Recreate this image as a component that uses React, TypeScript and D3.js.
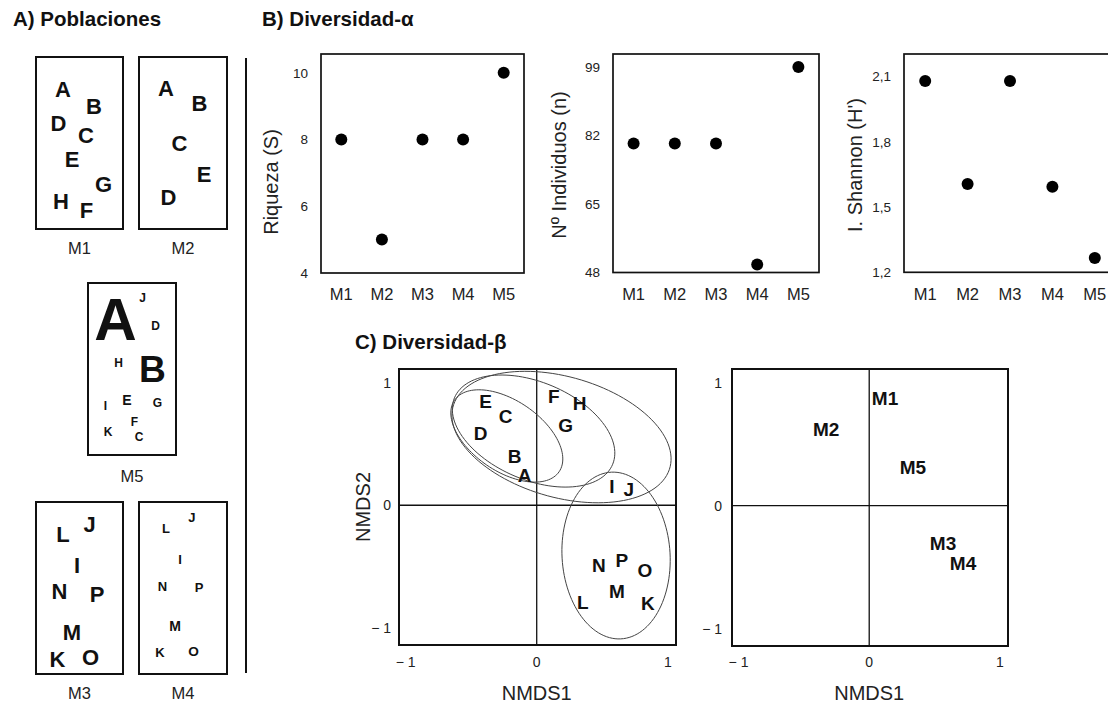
import React from 'react';
import * as d3 from 'd3';

// ---------- DATA ----------
const sites = ['M1', 'M2', 'M3', 'M4', 'M5'];
const riqueza = [8, 5, 8, 8, 10];
const individuos = [80, 80, 80, 50, 99];
const shannon = [2.08, 1.606, 2.08, 1.593, 1.266];

const riquezaTicks = [4, 6, 8, 10];
const individuosTicks = [48, 65, 82, 99];
const shannonTicks = [1.2, 1.5, 1.8, 2.1];

// Panel A: species letters inside each sample (relative position in the box, relative abundance weight)
const popM1 = [
  { sp: 'A', x: 0.31, y: 0.186, w: 1 },
  { sp: 'B', x: 0.667, y: 0.285, w: 1 },
  { sp: 'D', x: 0.259, y: 0.384, w: 1 },
  { sp: 'C', x: 0.575, y: 0.453, w: 1 },
  { sp: 'E', x: 0.414, y: 0.593, w: 1 },
  { sp: 'G', x: 0.776, y: 0.738, w: 1 },
  { sp: 'H', x: 0.287, y: 0.837, w: 1 },
  { sp: 'F', x: 0.58, y: 0.89, w: 1 },
];
const popM2 = [
  { sp: 'A', x: 0.307, y: 0.18, w: 1 },
  { sp: 'B', x: 0.688, y: 0.267, w: 1 },
  { sp: 'C', x: 0.46, y: 0.5, w: 1 },
  { sp: 'E', x: 0.739, y: 0.68, w: 1 },
  { sp: 'D', x: 0.335, y: 0.814, w: 1 },
];
const popM5 = [
  { sp: 'A', x: 0.3125, y: 0.209, w: 4.9 },
  { sp: 'J', x: 0.619, y: 0.086, w: 1 },
  { sp: 'D', x: 0.767, y: 0.249, w: 1 },
  { sp: 'H', x: 0.347, y: 0.463, w: 1 },
  { sp: 'B', x: 0.733, y: 0.499, w: 3.1 },
  { sp: 'I', x: 0.199, y: 0.713, w: 1 },
  { sp: 'E', x: 0.443, y: 0.68, w: 1.17 },
  { sp: 'G', x: 0.79, y: 0.696, w: 1 },
  { sp: 'F', x: 0.528, y: 0.806, w: 1 },
  { sp: 'K', x: 0.227, y: 0.866, w: 1 },
  { sp: 'C', x: 0.58, y: 0.895, w: 1 },
];
const popM3 = [
  { sp: 'L', x: 0.31, y: 0.186, w: 1 },
  { sp: 'J', x: 0.615, y: 0.128, w: 1 },
  { sp: 'I', x: 0.471, y: 0.366, w: 1 },
  { sp: 'N', x: 0.27, y: 0.517, w: 1 },
  { sp: 'P', x: 0.701, y: 0.535, w: 1 },
  { sp: 'M', x: 0.414, y: 0.756, w: 1 },
  { sp: 'K', x: 0.247, y: 0.913, w: 1 },
  { sp: 'O', x: 0.626, y: 0.901, w: 1 },
];
const popM4 = [
  { sp: 'L', x: 0.307, y: 0.153, w: 1 },
  { sp: 'J', x: 0.602, y: 0.089, w: 1 },
  { sp: 'I', x: 0.466, y: 0.333, w: 1 },
  { sp: 'N', x: 0.267, y: 0.49, w: 1 },
  { sp: 'P', x: 0.682, y: 0.496, w: 1 },
  { sp: 'M', x: 0.409, y: 0.723, w: 1.08 },
  { sp: 'K', x: 0.239, y: 0.874, w: 1 },
  { sp: 'O', x: 0.619, y: 0.868, w: 1.05 },
];

// NMDS species scores
const speciesNames = ['A', 'B', 'C', 'D', 'E', 'F', 'G', 'H', 'I', 'J', 'K', 'L', 'M', 'N', 'O', 'P'];
const speciesX = [-0.092, -0.168, -0.237, -0.428, -0.389, 0.13, 0.221, 0.328, 0.573, 0.702, 0.847, 0.351, 0.611, 0.473, 0.824, 0.649];
const speciesY = [0.247, 0.402, 0.729, 0.59, 0.851, 0.892, 0.655, 0.835, 0.157, 0.132, -0.799, -0.791, -0.701, -0.489, -0.529, -0.448];

// NMDS site scores
const siteNames = ['M1', 'M2', 'M3', 'M4', 'M5'];
const siteX = [0.121, -0.33, 0.565, 0.718, 0.335];
const siteY = [0.876, 0.623, -0.309, -0.464, 0.312];

const nmdsTicks = [-1, 0, 1];

// group ellipses: centre x, centre y, semi-axis a, semi-axis b, rotation (deg)
const ellipseCX = [-0.228, -0.024, 0.189, 0.605];
const ellipseCY = [0.566, 0.606, 0.557, -0.411];
const ellipseA = [0.495, 0.662, 0.864, 0.682];
const ellipseB = [0.282, 0.394, 0.49, 0.412];
const ellipseAngle = [-38, -26, -18, 93];

// ---------- STYLE ----------
const FONT = 'Liberation Sans, Arial, Helvetica, sans-serif';
const INK = '#111';

const fmtComma = (v: number) => v.toFixed(1).replace('.', ',');
const fmtNmds = (v: number) => (v < 0 ? '\u2212 ' + Math.abs(v) : String(v));

function PopBox({ x0, y0, w, h, pop, base, label, labelY }: any) {
  const sx = d3.scaleLinear().domain([0, 1]).range([x0, x0 + w]);
  const sy = d3.scaleLinear().domain([0, 1]).range([y0, y0 + h]);
  return (
    <g>
      <rect x={x0} y={y0} width={w} height={h} fill="none" stroke={INK} strokeWidth={2} />
      {pop.map((d: any, i: number) => {
        const fs = base * d.w;
        return (
          <text key={i} x={sx(d.x)} y={sy(d.y) + fs * 0.358} fontSize={fs} fontWeight="bold" textAnchor="middle" fill={INK}>
            {d.sp}
          </text>
        );
      })}
      <text x={x0 + w / 2} y={labelY} fontSize={16.5} textAnchor="middle" fill="#222">{label}</text>
    </g>
  );
}

function DotPlot({ left, right, top, bottom, values, ticks, domain, fmt, title, titleX, titleY }: any) {
  const x = d3.scaleLinear().domain([0.5, 5.5]).range([left, right]);
  const y = d3.scaleLinear().domain(domain).range([bottom, top]);
  return (
    <g>
      <rect x={left} y={top} width={right - left} height={bottom - top} fill="none" stroke={INK} strokeWidth={1.7} />
      {ticks.map((t: number, i: number) => (
        <text key={i} x={left - 13} y={y(t)} dy="0.36em" fontSize={13.5} textAnchor="end" fill="#222">{fmt(t)}</text>
      ))}
      {sites.map((s, i) => (
        <text key={s} x={x(i + 1)} y={300} fontSize={16.5} textAnchor="middle" fill="#222">{s}</text>
      ))}
      {values.map((v: number, i: number) => (
        <circle key={i} cx={x(i + 1)} cy={y(v)} r={6} fill="#000" />
      ))}
      <text transform={`translate(${titleX},${titleY}) rotate(-90)`} fontSize={20} textAnchor="middle" fill="#222">{title}</text>
    </g>
  );
}

function NmdsFrame({ left, right, top, bottom, tickGap, children, xTitle, yTitle }: any) {
  const x = d3.scaleLinear().domain([-1.05, 1.062]).range([left, right]);
  const y = d3.scaleLinear().domain([-1.142, 1.113]).range([bottom, top]);
  return (
    <g>
      <line x1={left} x2={right} y1={y(0)} y2={y(0)} stroke={INK} strokeWidth={1.3} />
      <line x1={x(0)} x2={x(0)} y1={top} y2={bottom} stroke={INK} strokeWidth={1.3} />
      {children(x, y)}
      <rect x={left} y={top} width={right - left} height={bottom - top} fill="none" stroke={INK} strokeWidth={2} />
      {nmdsTicks.map((t) => (
        <text key={'x' + t} x={x(t)} y={662} dy="0.36em" fontSize={14} textAnchor="middle" fill="#222">{fmtNmds(t)}</text>
      ))}
      {nmdsTicks.map((t) => (
        <text key={'y' + t} x={left - tickGap} y={y(t)} dy="0.36em" fontSize={14} textAnchor="end" fill="#222">{fmtNmds(t)}</text>
      ))}
      <text x={x(0)} y={700} fontSize={20} textAnchor="middle" fill="#222">{xTitle}</text>
      {yTitle ? (
        <text transform={`translate(370,${(top + bottom) / 2}) rotate(-90)`} fontSize={20} textAnchor="middle" fill="#222">{yTitle}</text>
      ) : null}
    </g>
  );
}

function ellipsePath(i: number, x: any, y: any) {
  const n = 120;
  const th = (ellipseAngle[i] * Math.PI) / 180;
  const pts: [number, number][] = d3.range(n).map((k) => {
    const t = (k / n) * 2 * Math.PI;
    const dx = ellipseA[i] * Math.cos(t);
    const dy = ellipseB[i] * Math.sin(t);
    return [ellipseCX[i] + dx * Math.cos(th) - dy * Math.sin(th), ellipseCY[i] + dx * Math.sin(th) + dy * Math.cos(th)];
  });
  const line = d3.line<[number, number]>().x((p) => x(p[0])).y((p) => y(p[1])).curve(d3.curveLinearClosed);
  return line(pts) || '';
}

export default function App() {
  return (
    <svg width={1108} height={704} style={{ position: 'absolute', left: 0, top: 0, display: 'block', background: '#fff' }} fontFamily={FONT}>
      <rect x={0} y={0} width={1108} height={704} fill="#fff" />
      {/* Titles */}
      <text x={13} y={26} fontSize={20.5} fontWeight="bold" fill={INK}>A) Poblaciones</text>
      <text x={262} y={26} fontSize={20.5} fontWeight="bold" fill={INK}>B) Diversidad-α</text>
      <text x={355} y={349} fontSize={20.5} fontWeight="bold" fill={INK}>C) Diversidad-β</text>

      {/* Panel A */}
      <PopBox x0={36} y0={57} w={87} h={172} pop={popM1} base={22} label="M1" labelY={254} />
      <PopBox x0={139} y0={57} w={88} h={172} pop={popM2} base={22} label="M2" labelY={254} />
      <PopBox x0={88} y0={283} w={88} h={172} pop={popM5} base={12} label="M5" labelY={482} />
      <PopBox x0={36} y0={502} w={87} h={172} pop={popM3} base={22} label="M3" labelY={699} />
      <PopBox x0={139} y0={502} w={88} h={172} pop={popM4} base={13} label="M4" labelY={699} />
      <line x1={246} x2={246} y1={58} y2={673} stroke={INK} strokeWidth={2} />

      {/* Panel B */}
      <DotPlot left={321} right={524} top={54} bottom={273} values={riqueza} ticks={riquezaTicks} domain={[4, 10.56]}
        fmt={(v: number) => String(v)} title="Riqueza (S)" titleX={278} titleY={182} />
      <DotPlot left={613} right={819} top={54} bottom={272.5} values={individuos} ticks={individuosTicks} domain={[48, 102.2]}
        fmt={(v: number) => String(v)} title="Nº Individuos (n)" titleX={566} titleY={165} />
      <DotPlot left={904} right={1116} top={54} bottom={272.3} values={shannon} ticks={shannonTicks} domain={[1.2, 2.204]}
        fmt={fmtComma} title="I. Shannon (H')" titleX={862} titleY={165} />

      {/* Panel C */}
      <NmdsFrame left={399} right={676} top={369} bottom={645} tickGap={8} xTitle="NMDS1" yTitle="NMDS2">
        {(x: any, y: any) => (
          <g>
            {ellipseCX.map((_, i) => (
              <path key={i} d={ellipsePath(i, x, y)} fill="none" stroke="#444" strokeWidth={1} />
            ))}
            {speciesNames.map((s, i) => (
              <text key={s} x={x(speciesX[i])} y={y(speciesY[i])} dy="0.358em" fontSize={19} fontWeight="bold" textAnchor="middle" fill={INK}>{s}</text>
            ))}
          </g>
        )}
      </NmdsFrame>
      <NmdsFrame left={732} right={1008} top={369} bottom={646} tickGap={10} xTitle="NMDS1" yTitle={null}>
        {(x: any, y: any) => (
          <g>
            {siteNames.map((s, i) => (
              <text key={s} x={x(siteX[i])} y={y(siteY[i])} dy="0.358em" fontSize={19} fontWeight="bold" textAnchor="middle" fill={INK}>{s}</text>
            ))}
          </g>
        )}
      </NmdsFrame>
    </svg>
  );
}
